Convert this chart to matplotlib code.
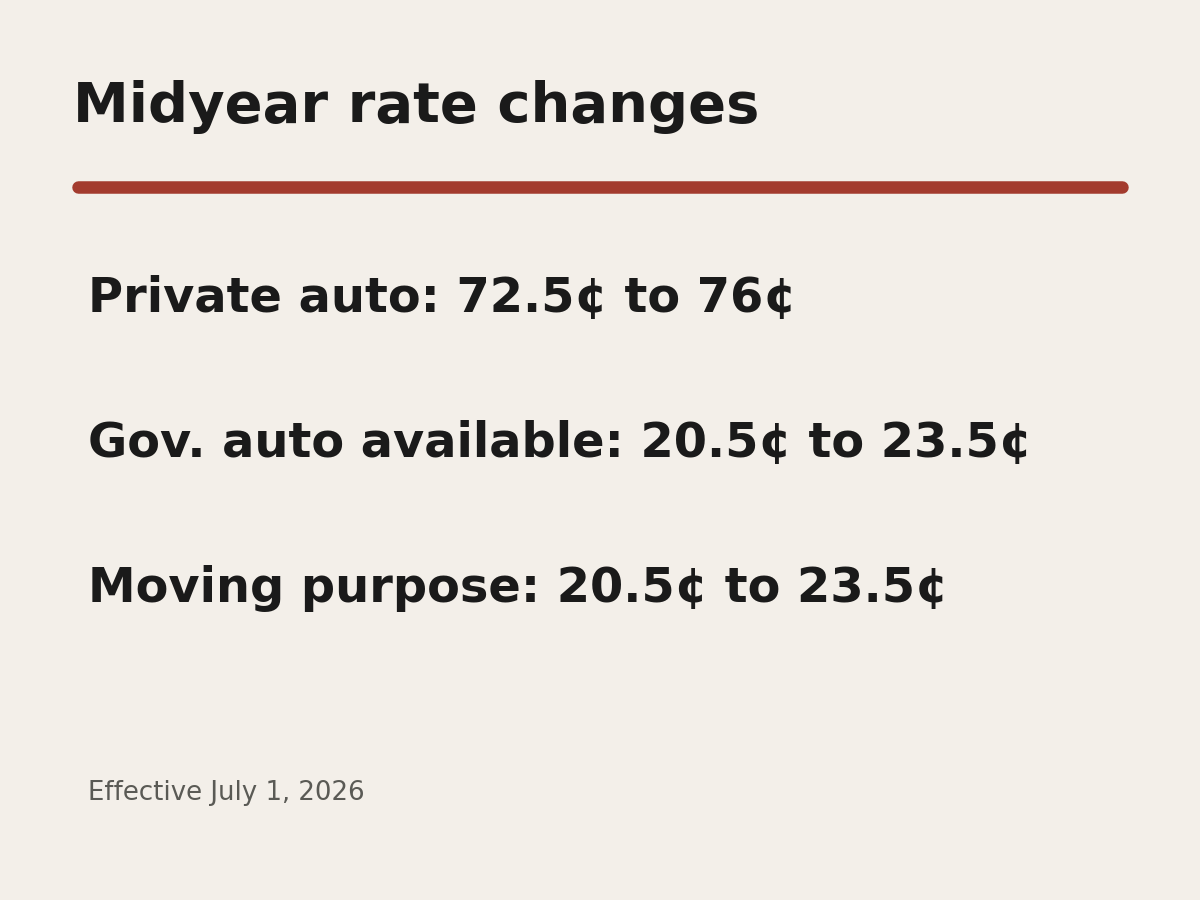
import matplotlib
matplotlib.use("Agg")
import matplotlib.pyplot as plt
from matplotlib.lines import Line2D

title = "Midyear rate changes"
labels = ["Private auto", "Gov. auto available", "Moving purpose"]
old_rates = ["72.5", "20.5", "20.5"]
new_rates = ["76", "23.5", "23.5"]
footnote = "Effective July 1, 2026"

W, H = 1200, 900
fig = plt.figure(figsize=(12, 9), dpi=100)
fig.patch.set_facecolor("#f3efe9")

def fy(px):
    return 1 - px / H

fig.text(73 / W, fy(122), title, fontsize=40.3, fontweight="bold", color="#1a1a1a",
         ha="left", va="baseline", family="DejaVu Sans")
fig.add_artist(Line2D([78 / W, 1122 / W], [fy(187), fy(187)], transform=fig.transFigure,
                      color="#a33b2e", linewidth=9, solid_capstyle="round"))
for i, (lab, o, n) in enumerate(zip(labels, old_rates, new_rates)):
    fig.text(88 / W, fy(312 + 145 * i), f"{lab}: {o}¢ to {n}¢", fontsize=34.5,
             fontweight="bold", color="#1a1a1a", ha="left", va="baseline", family="DejaVu Sans")
fig.text(88 / W, fy(800), footnote, fontsize=18.7, color="#5a5a55", ha="left",
         va="baseline", family="DejaVu Sans")

fig.savefig("out.png", dpi=100, facecolor=fig.get_facecolor())
